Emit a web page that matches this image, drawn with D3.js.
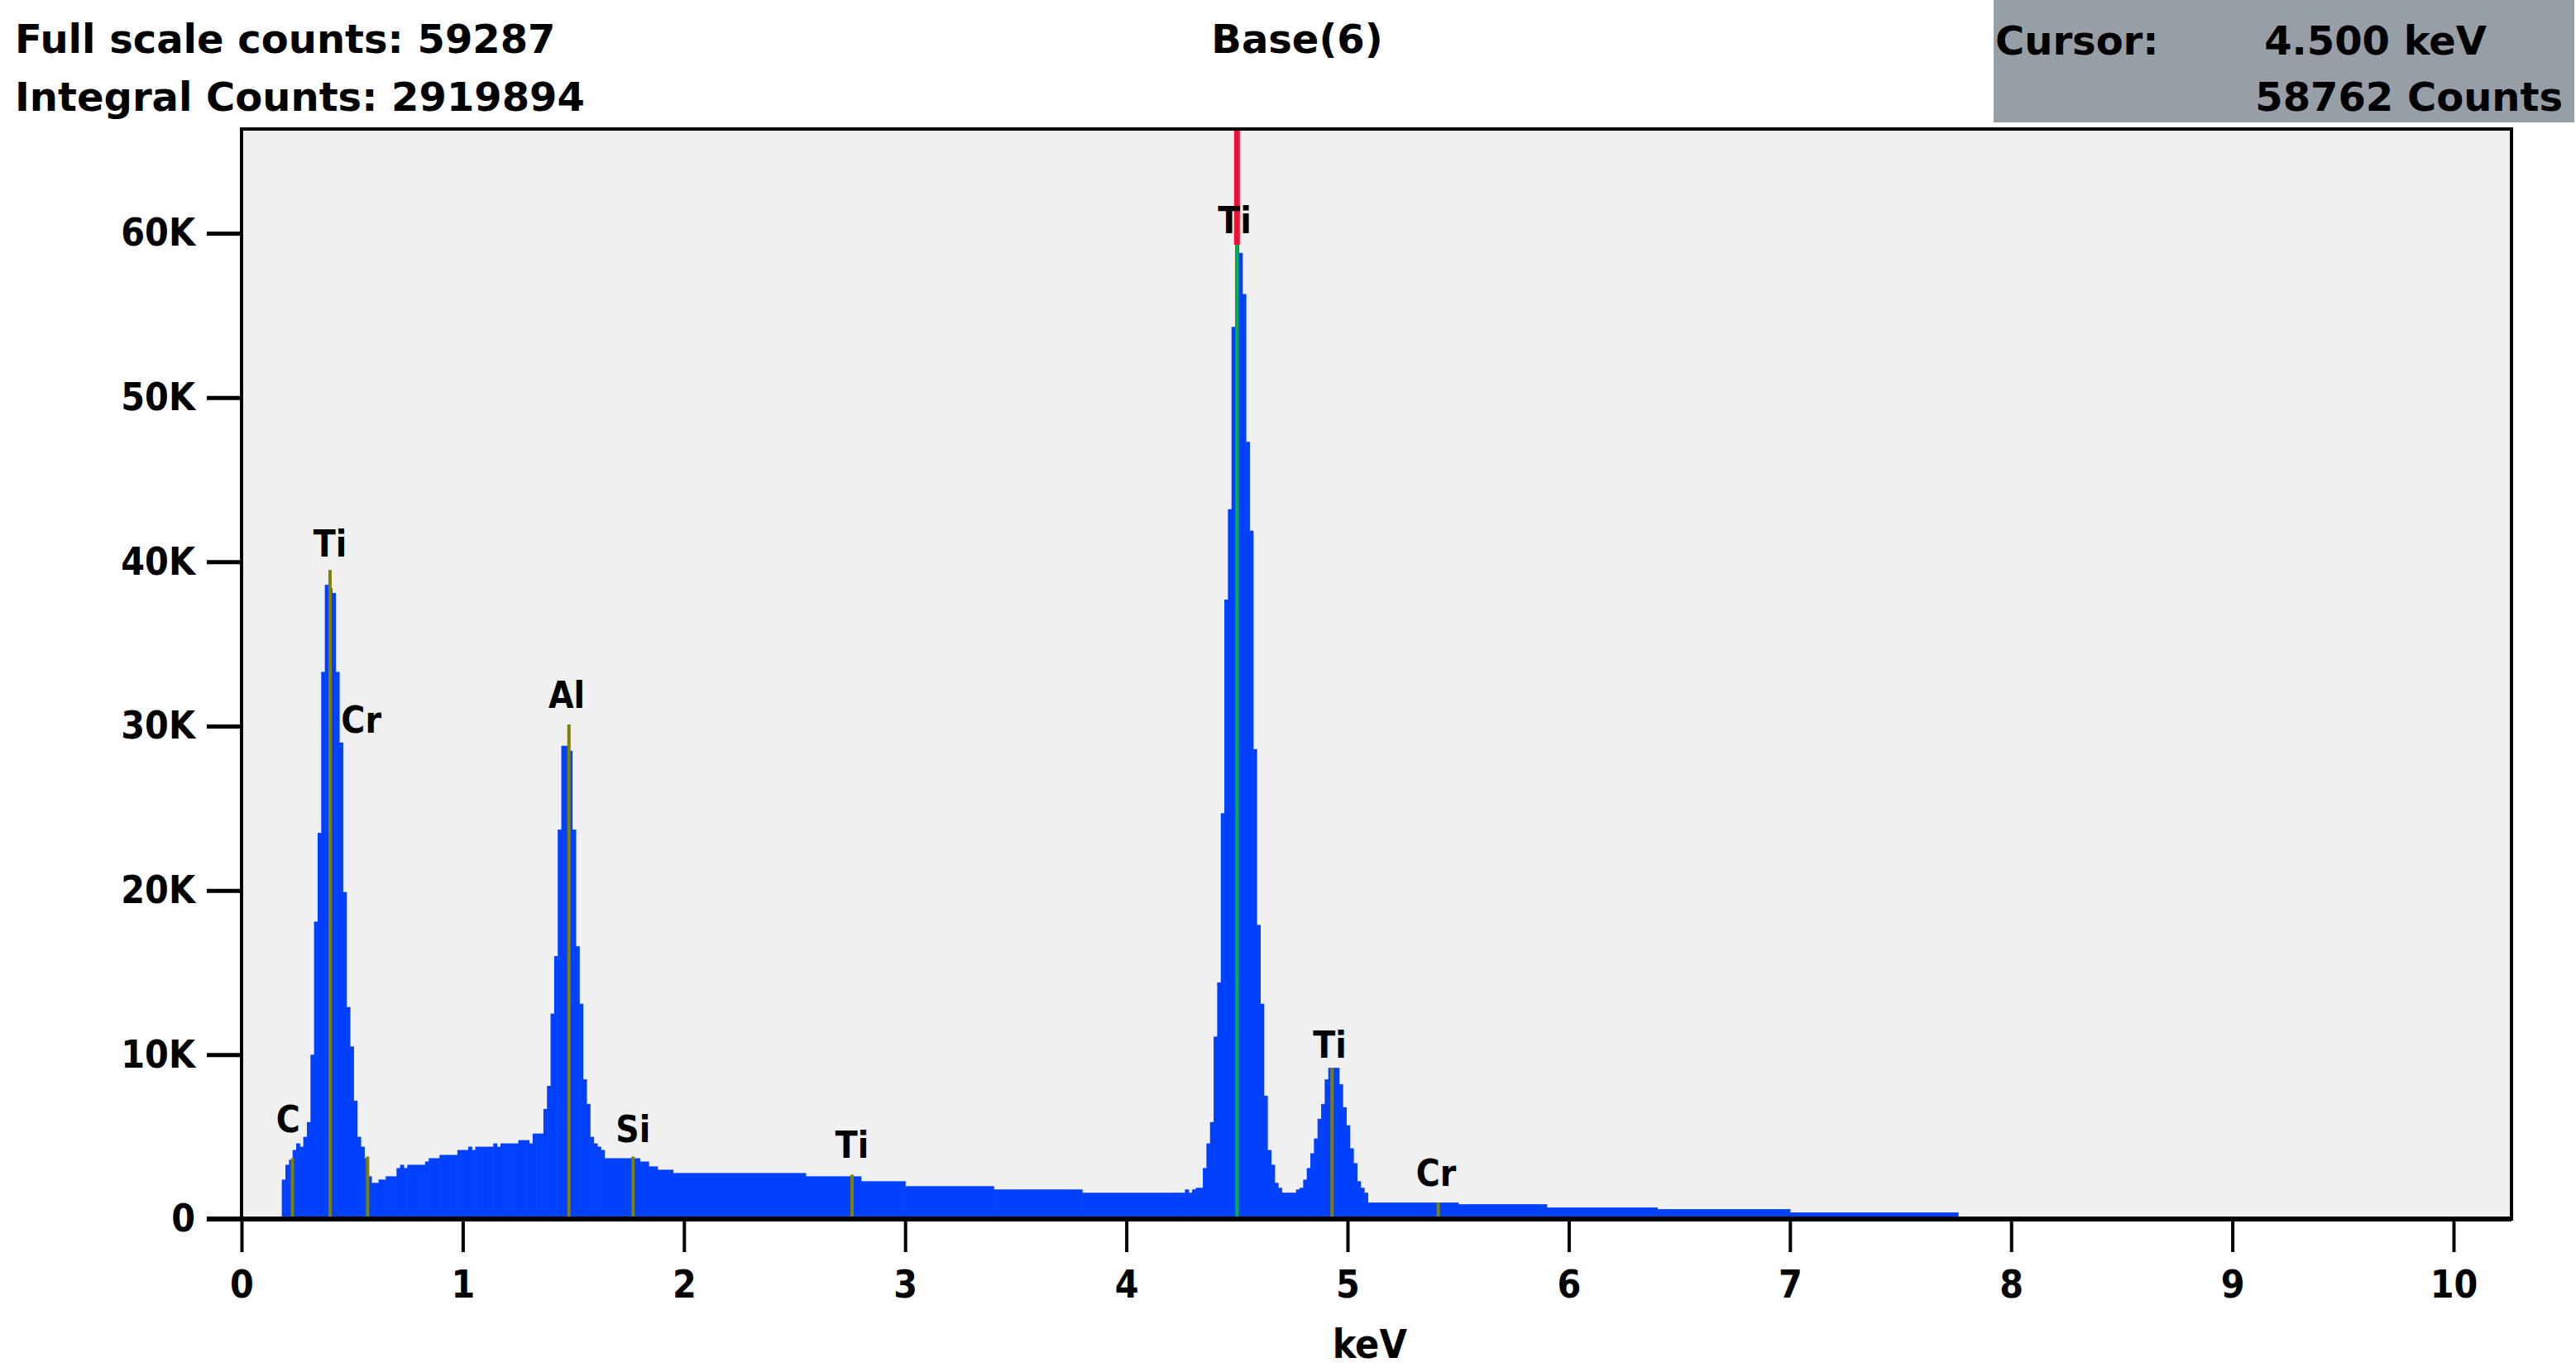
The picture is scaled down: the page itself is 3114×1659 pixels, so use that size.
<!doctype html>
<html>
<head>
<meta charset="utf-8">
<script src="https://cdnjs.cloudflare.com/ajax/libs/d3/7.8.5/d3.min.js"></script>
<style>
  body { margin: 0; background: #fff; }
  text { font-family: "DejaVu Sans Condensed", "DejaVu Sans", sans-serif; font-weight: bold; fill: #000; }
  text.head { font-family: "DejaVu Sans", sans-serif; }
</style>
</head>
<body>
<svg id="chart" width="3114" height="1659"></svg>
<script>
// channel width of the spectrum, keV
var chWidth = 0.0162

// low energy region (C, Ti L, Cr L, Al K), counts in K, channels from 0.182 keV
var lowStart = 0.182
var lowCounts = [2.4, 3.3, 3.6, 4.2, 4.6, 4.4, 5.0, 5.9, 10.0, 18.1, 23.5, 33.3, 38.6, 38.4, 38.1, 33.3,
  29.0, 19.9, 12.9, 10.5, 7.2, 5.0, 4.4, 3.7, 2.6, 2.2, 2.2, 2.4, 2.4, 2.6, 2.6, 2.6,
  3.1, 3.3, 3.1, 3.3, 3.3, 3.3, 3.3, 3.3, 3.5, 3.7, 3.7, 3.7, 3.9, 3.9, 3.9, 3.9,
  3.9, 4.2, 4.2, 4.2, 4.4, 4.2, 4.4, 4.4, 4.4, 4.4, 4.4, 4.6, 4.4, 4.6, 4.6, 4.6,
  4.6, 4.6, 4.8, 4.8, 4.8, 4.6, 5.2, 5.2, 5.2, 6.7, 8.1, 12.5, 16.0, 23.7, 28.8, 28.8,
  28.5, 23.7, 16.6, 13.1, 8.5, 7.0, 5.0, 4.6, 4.4, 4.2]

// Ti K region, channels from 4.200 keV
var tiKStart = 4.200
var tiKCounts = [1.6, 1.6, 1.6, 1.6, 1.8, 1.6, 1.8, 1.9, 1.9, 3.1, 4.6, 5.9, 11.1, 14.4, 24.7, 37.7,
  43.2, 54.3, 59.3, 58.8, 56.3, 47.3, 41.9, 28.6, 17.9, 13.1, 7.5, 4.2, 3.3, 2.2, 1.9, 1.6,
  1.6, 1.6, 1.6, 1.8, 1.9, 2.4, 3.1, 4.0, 4.9, 6.1, 7.0, 8.5, 9.2, 9.2, 9.2, 8.2,
  6.8, 5.7, 4.3, 3.4, 2.3, 1.9, 1.6]

// flat background stretches: start keV, end keV, counts (K)
var bgStart = [1.640, 1.800, 1.840, 1.880, 1.950, 2.550, 2.800, 3.000, 3.400, 3.800, 5.091, 5.500, 5.900, 6.400, 7.000]
var bgEnd   = [1.800, 1.840, 1.880, 1.950, 2.550, 2.800, 3.000, 3.400, 3.800, 4.200, 5.500, 5.900, 6.400, 7.000, 7.760]
var bgCounts = [3.7, 3.5, 3.2, 3.0, 2.8, 2.6, 2.3, 2.0, 1.8, 1.6, 1.0, 0.9, 0.7, 0.6, 0.4]

// element markers
var lineNames  = ['C', 'Ti', 'Cr', 'Al', 'Si', 'Ti', 'Ti', 'Ti', 'Cr']
var lineKeV    = [0.23, 0.40, 0.57, 1.48, 1.77, 2.76, 4.50, 4.93, 5.41]
var lineTop    = [3.7, 39.5, 3.8, 30.1, 3.8, 2.7, 59.3, 9.2, 1.0]
var labelKeV   = [0.21, 0.40, 0.45, 1.47, 1.77, 2.76, 4.49, 4.92, 5.40]
var labelCount = [5.3, 40.3, 29.6, 31.1, 4.7, 3.7, 60.0, 9.8, 2.0]
var labelAnchor = ['middle', 'middle', 'start', 'middle', 'middle', 'middle', 'middle', 'middle', 'middle']

var xTicks = [0, 1, 2, 3, 4, 5, 6, 7, 8, 9, 10]
var yTicks = [0, 10, 20, 30, 40, 50, 60]
var yTickLabels = ['0', '10K', '20K', '30K', '40K', '50K', '60K']

var svg = d3.select('#chart')
var pLeft = 292, pRight = 3036, pTop = 156, pBottom = 1474

var x = d3.scaleLinear().domain([0, 10]).range([pLeft, 2966])
var y = d3.scaleLinear().domain([0, 60]).range([pBottom, 282])

svg.append('rect').attr('x', pLeft).attr('y', pTop).attr('width', pRight - pLeft).attr('height', pBottom - pTop)
  .attr('fill', '#f0f0f0')

// build all histogram steps
var steps = []
lowCounts.forEach(function (c, i) { steps.push({ a: lowStart + i * chWidth, b: lowStart + (i + 1) * chWidth, c: c }) })
tiKCounts.forEach(function (c, i) { steps.push({ a: tiKStart + i * chWidth, b: tiKStart + (i + 1) * chWidth, c: c }) })
bgCounts.forEach(function (c, i) { steps.push({ a: bgStart[i], b: bgEnd[i], c: c }) })

svg.append('g').selectAll('rect').data(steps).enter().append('rect')
  .attr('x', function (d) { return x(d.a) })
  .attr('width', function (d) { return x(d.b) - x(d.a) + 0.6 })
  .attr('y', function (d) { return y(d.c) })
  .attr('height', function (d) { return pBottom - y(d.c) })
  .attr('fill', '#0041ff')

// marker lines
var lines = lineKeV.map(function (k, i) { return { k: k, top: lineTop[i], name: lineNames[i] } })
svg.append('g').selectAll('line').data(lines).enter().append('line')
  .attr('x1', function (d) { return x(d.k) }).attr('x2', function (d) { return x(d.k) })
  .attr('y1', pBottom).attr('y2', function (d) { return y(d.top) })
  .attr('stroke', function (d) { return d.k === 4.50 ? '#00b050' : '#808000' })
  .attr('stroke-width', 4)

// cursor
svg.append('line').attr('x1', x(4.5)).attr('x2', x(4.5)).attr('y1', pTop).attr('y2', y(59.3))
  .attr('stroke', '#ee1133').attr('stroke-width', 7)

// labels
svg.append('g').selectAll('text').data(lineNames).enter().append('text')
  .attr('x', function (d, i) { return x(labelKeV[i]) })
  .attr('y', function (d, i) { return y(labelCount[i]) })
  .attr('text-anchor', function (d, i) { return labelAnchor[i] })
  .attr('font-size', 44)
  .text(function (d) { return d })

// border
svg.append('rect').attr('x', pLeft).attr('y', pTop).attr('width', pRight - pLeft).attr('height', pBottom - pTop)
  .attr('fill', 'none').attr('stroke', '#000').attr('stroke-width', 4)

// axes
var xAxis = svg.append('g').attr('transform', 'translate(0,' + pBottom + ')')
  .call(d3.axisBottom(x).tickValues(xTicks).tickSize(40).tickPadding(14).tickFormat(d3.format('d')))
var yAxis = svg.append('g').attr('transform', 'translate(' + pLeft + ',0)')
  .call(d3.axisLeft(y).tickValues(yTicks).tickSize(42).tickPadding(14).tickFormat(function (d, i) { return yTickLabels[i] }))
xAxis.select('.domain').remove()
yAxis.select('.domain').remove()
xAxis.selectAll('line').attr('stroke', '#000').attr('stroke-width', 4)
yAxis.selectAll('line').attr('stroke', '#000').attr('stroke-width', 5)
xAxis.selectAll('text').attr('font-size', 46).attr('font-family', null).attr('dy', '0.9em')
yAxis.selectAll('text').attr('font-size', 46).attr('font-family', null)
svg.append('line').attr('x1', pLeft - 42).attr('x2', pRight).attr('y1', pBottom).attr('y2', pBottom)
  .attr('stroke', '#000').attr('stroke-width', 6)

svg.append('text').attr('x', x(5.1)).attr('y', 1642).attr('text-anchor', 'middle').attr('font-size', 48).text('keV')

// header
svg.append('text').attr('class', 'head').attr('x', 18).attr('y', 64).attr('font-size', 48).text('Full scale counts: 59287')
svg.append('text').attr('class', 'head').attr('x', 18).attr('y', 134).attr('font-size', 48).text('Integral Counts: 2919894')
svg.append('text').attr('class', 'head').attr('x', 1568).attr('y', 64).attr('text-anchor', 'middle').attr('font-size', 48).text('Base(6)')
svg.append('rect').attr('x', 2410).attr('y', 0).attr('width', 702).attr('height', 148).attr('fill', '#979ea6')
svg.append('text').attr('class', 'head').attr('x', 2412).attr('y', 66).attr('font-size', 48).text('Cursor:')
svg.append('text').attr('class', 'head').attr('x', 3006).attr('y', 66).attr('text-anchor', 'end').attr('font-size', 48).text('4.500 keV')
svg.append('text').attr('class', 'head').attr('x', 3098).attr('y', 134).attr('text-anchor', 'end').attr('font-size', 48).text('58762 Counts')
</script>
</body>
</html>
